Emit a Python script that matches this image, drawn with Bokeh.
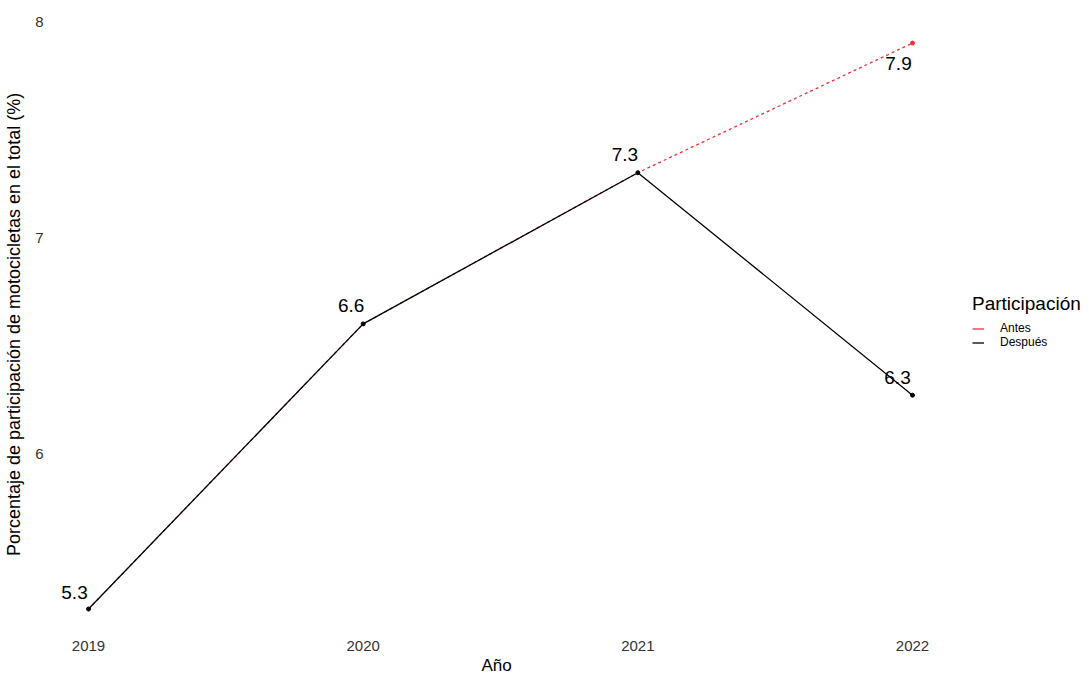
from bokeh.plotting import figure
from bokeh.models import ColumnDataSource, Legend, LegendItem, FixedTicker, Range1d, Title
from bokeh.embed import file_html
from bokeh.resources import INLINE
from bokeh.core.properties import value

# ---- data ----
years = [2019, 2020, 2021, 2022]
antes = [5.28, 6.60, 7.30, 7.90]
despues = [5.28, 6.60, 7.30, 6.27]
y_ticks = [6, 7, 8]
x_label = "Año"
y_label = "Porcentaje de participación de motocicletas en el total (%)"
legend_title = "Participación"
series_names = ["Antes", "Después"]

# label styles (pixel offsets, not data)
desp_dx = [-14, -12, -13, -15]
desp_dy = [-17, -18, -18, -18]
antes_dx = [-14]
antes_dy = [20]

FONT = "Liberation Sans"
RED = "#e8323c"
PX_PER_YEAR = 274.67
FRAME_L, FRAME_R = 47, 1089
NAN = float("nan")

x0 = 2019 - 41 / PX_PER_YEAR
x1 = x0 + (FRAME_R - FRAME_L) / PX_PER_YEAR

p = figure(width=1089, height=676, output_backend="svg", toolbar_location=None,
           x_range=Range1d(x0, x1),
           y_range=Range1d(7 - (636 - 237) / 216, 7 + (237 - 12) / 216),
           min_border_left=FRAME_L, min_border_right=0, min_border_top=12, min_border_bottom=40)
p.outline_line_color = None
p.xgrid.visible = False
p.ygrid.visible = False
p.background_fill_color = "white"
p.border_fill_color = "white"

p.line(years, antes, line_color=RED, line_width=1.3, line_dash="3 3")
p.scatter(years[-1:], antes[-1:], size=4, color=RED)
p.line(years, despues, line_color="black", line_width=1.3)
p.scatter(years, despues, size=4, color="black")

# solid keys for the legend (renderers with no drawable points)
key_antes = p.line(x=[NAN, NAN], y=[NAN, NAN], line_color=RED, line_width=1.3)
key_desp = p.line(x=[NAN, NAN], y=[NAN, NAN], line_color="black", line_width=1.3)

src_d = ColumnDataSource(dict(x=years, y=despues, t=[f"{v:.1f}" for v in despues],
                              dx=desp_dx, dy=desp_dy))
p.text("x", "y", text="t", x_offset="dx", y_offset="dy", source=src_d,
       text_align="center", text_baseline="middle", text_font=value(FONT),
       text_font_size="19px", text_color="black")
src_a = ColumnDataSource(dict(x=years[-1:], y=antes[-1:], t=[f"{v:.1f}" for v in antes[-1:]],
                              dx=antes_dx, dy=antes_dy))
p.text("x", "y", text="t", x_offset="dx", y_offset="dy", source=src_a,
       text_align="center", text_baseline="middle", text_font=value(FONT),
       text_font_size="19px", text_color="black")

for ax in (p.xaxis[0], p.yaxis[0]):
    ax.axis_line_color = None
    ax.major_tick_line_color = None
    ax.minor_tick_line_color = None
    ax.major_tick_out = 0
    ax.major_tick_in = 0
    ax.minor_tick_out = 0
    ax.minor_tick_in = 0
    ax.major_label_text_font = FONT
    ax.major_label_text_font_size = "15px"
    ax.major_label_text_color = "#333333"
    ax.axis_label_text_font = FONT
    ax.axis_label_text_font_style = "normal"
    ax.axis_label_text_color = "black"

p.xaxis.ticker = FixedTicker(ticks=years)
p.yaxis.ticker = FixedTicker(ticks=y_ticks)
p.xaxis.major_label_standoff = 4
p.yaxis.major_label_standoff = 4
p.yaxis.axis_label = y_label
p.yaxis.axis_label_text_font_size = "18px"
p.yaxis.axis_label_standoff = 8

# x-axis title, centred under the data span (frame is widened for the legend)
p.add_layout(Title(text=x_label, align="left", offset=496 - 15 - FRAME_L,
                   text_font=FONT, text_font_size="17px", text_font_style="normal",
                   text_color="black", standoff=0), "below")

legend = Legend(items=[LegendItem(label=series_names[0], renderers=[key_antes]),
                       LegendItem(label=series_names[1], renderers=[key_desp])],
                location=(972 - FRAME_L, 636 - 349), title=legend_title,
                title_text_font=FONT, title_text_font_size="19px", title_text_font_style="normal",
                title_text_color="black", title_standoff=6,
                label_text_font=FONT, label_text_font_size="12px", label_text_color="black",
                label_height=11, glyph_height=11, glyph_width=12, label_standoff=16,
                spacing=0, padding=0, margin=0,
                border_line_color=None, background_fill_alpha=0)
p.add_layout(legend, "center")

open("out.html", "w").write(file_html(p, INLINE))
